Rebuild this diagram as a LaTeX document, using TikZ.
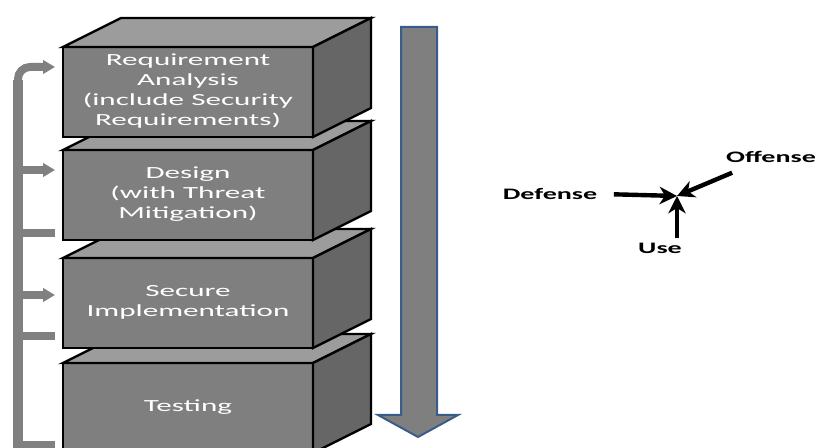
\documentclass[tikz,border=0pt]{standalone}
\usepackage{fontspec}
\setmainfont{Carlito}
\usepackage{graphicx}
\usetikzlibrary{arrows.meta}

\definecolor{frontgray}{HTML}{7F7F7F}
\definecolor{topgray}{HTML}{9C9C9C}
\definecolor{sidegray}{HTML}{666666}
\definecolor{bargray}{HTML}{808080}
\definecolor{flowblue}{HTML}{385D8A}

\newcommand{\stretchtext}[2]{\scalebox{#1}[1]{\begin{tabular}{@{}c@{}}#2\end{tabular}}}

\tikzset{
  front/.style={draw=black, line width=1.8pt, fill=frontgray, minimum width=187.5pt,
    minimum height=67.5pt, inner sep=0pt, outer sep=0pt, text=white,
    font=\fontsize{12.75pt}{15pt}\selectfont},
  facetop/.style={draw=black, line width=1.8pt, fill=topgray},
  faceside/.style={draw=black, line width=1.8pt, fill=sidegray},
  loopline/.style={draw=bargray, line width=6pt},
  looparrow/.style={loopline, -{Triangle[length=9pt,width=10pt]}},
  hit/.style={draw=black, line width=3.3pt, -{Stealth[length=13pt,width=13pt,inset=4pt]}},
  threat/.style={font=\bfseries\fontsize{12pt}{14pt}\selectfont}
}

% one phase: name, centre y, text
\newcommand{\slab}[3]{%
  \node[front] (#1) at (188,#2) {\stretchtext{1.83}{#3}};
  \draw[facetop] (#1.north west) -- ++(58,-29) -- ++(250,0) -- (#1.north east) -- cycle;
  \draw[faceside] (#1.north east) -- ++(58,-29) -- ++(0,90) -- (#1.south east) -- cycle;
}

\begin{document}
\begin{tikzpicture}[x=0.75pt, y=-0.75pt]
    \useasboundingbox (0,0) rectangle (821,448);
    \clip (0,0) rectangle (821,448);

    % phases, bottom one first
    \slab{tst}{408}{Testing}
    \slab{imp}{303}{Secure\\Implementation}
    \slab{dsg}{195}{Design\\(with Threat\\Mitigation)}
    \slab{req}{92}{Requirement\\Analysis\\(include Security\\Requirements)}

    % feedback bracket
    \draw[loopline, line width=8pt] (18,450) -- (18,80);
    \draw[looparrow, rounded corners=9pt] (18,95) -- (18,67) -- (55,67);
    \foreach \y in {170,295}
        \draw[looparrow] (18,\y) -- (55,\y);
    \foreach \y in {233,336,445}
        \draw[loopline] (18,\y) -- (55,\y);

    % flow direction
    \draw[fill=frontgray, draw=flowblue, line width=1.5pt]
        (401,27) -- (437,27) -- (437,415) -- (458,415) -- (418,437) -- (378,415) -- (401,415) -- cycle;

    % forces
    \coordinate (hub) at (677,196);
    \node[threat] (def) at (550,194) {\scalebox{1.75}[1]{Defense}};
    \node[threat] (off) at (771,157) {\scalebox{1.75}[1]{Offense}};
    \node[threat] (use) at (660,248) {\scalebox{1.75}[1]{Use}};
    \draw[hit, shorten <=9pt] (def.east) -- (hub);
    \draw[hit] ([xshift=8pt,yshift=-4pt]off.south west) -- (hub);
    \draw[hit] (use.north -| hub) -- (hub);
\end{tikzpicture}
\end{document}
